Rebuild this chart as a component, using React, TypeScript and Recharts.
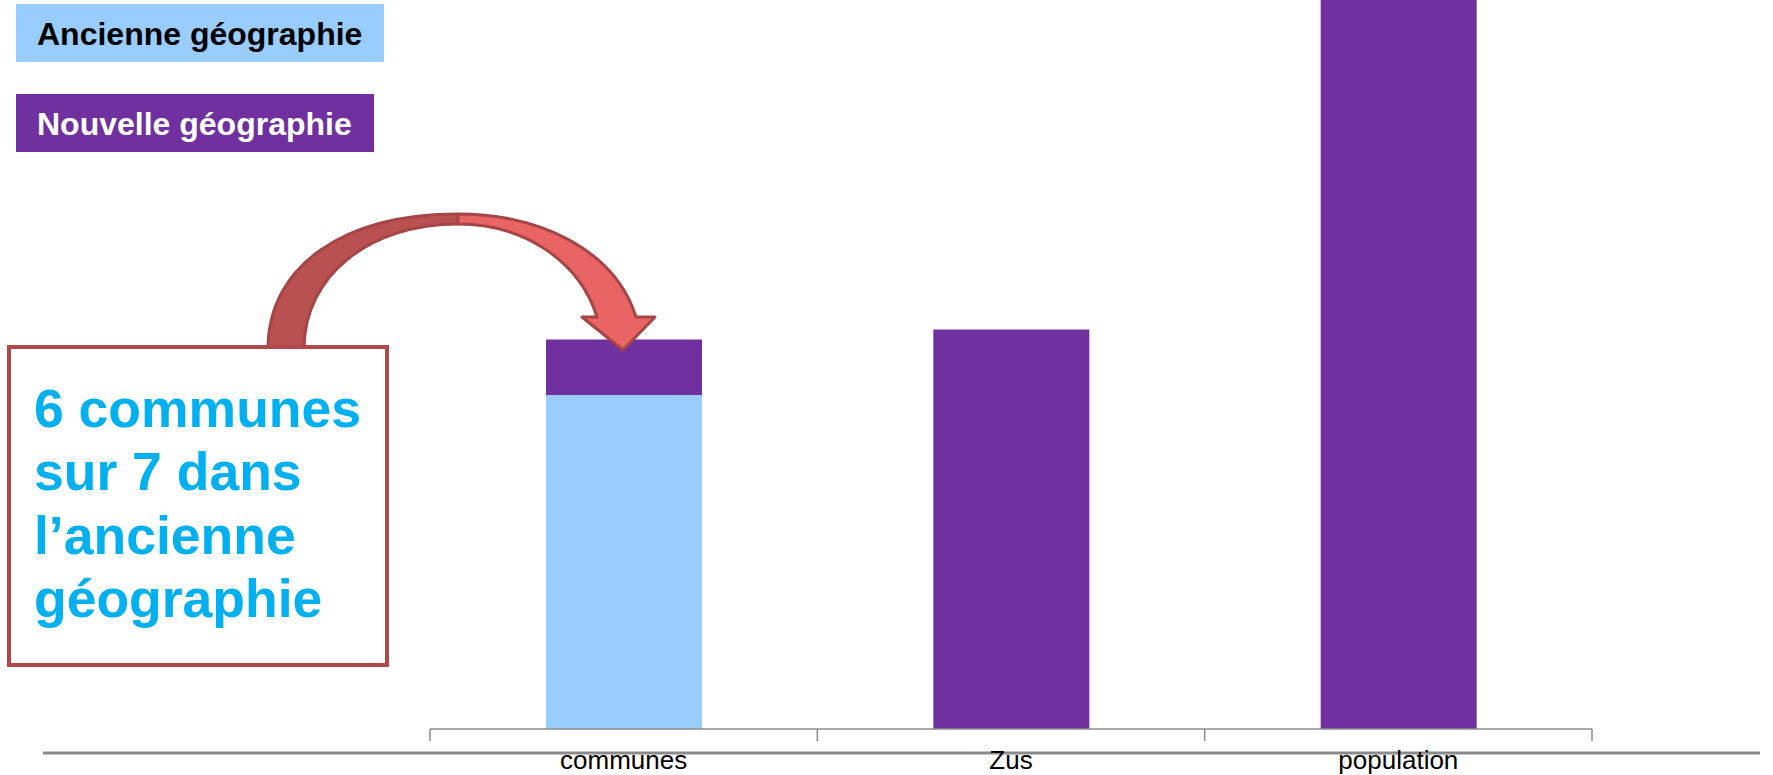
import React from 'react';
import { BarChart, Bar, XAxis, YAxis } from 'recharts';

const categories = ['communes', 'Zus', 'population'];
const ancienneValues = [6, 0, 0];
const nouvelleValues = [1, 7.18, 13.1];
const seriesNames = ['Ancienne géographie', 'Nouvelle géographie'];
const seriesColors = ['#99CCFF', '#7030A0'];
const annotationLines = ['6 communes', 'sur 7 dans', 'l\u2019ancienne', 'géographie'];

const data = categories.map((c, i) => ({
  name: c,
  ancienne: ancienneValues[i],
  nouvelle: nouvelleValues[i],
}));

const FONT = '"Liberation Sans", Arial, sans-serif';

const Tick = (props: any) => {
  const { x, y, payload, index } = props;
  const half = payload && typeof payload.offset === 'number' && payload.offset > 0 ? payload.offset : 193;
  const last = index === categories.length - 1;
  return (
    <g>
      <line x1={x - half} x2={x - half} y1={y} y2={y + 12} stroke="#8C8C8C" strokeWidth={1.5} />
      {last && <line x1={x + half} x2={x + half} y1={y} y2={y + 12} stroke="#8C8C8C" strokeWidth={1.5} />}
      <text x={x} y={y + 40} textAnchor="middle" fontSize={26} fill="#000" fontFamily={FONT}>
        {payload.value}
      </text>
    </g>
  );
};

export default function App() {
  return (
    <div style={{ position: 'fixed', left: 0, top: 0, width: 1773, height: 775, background: '#fff', fontFamily: FONT }}>
      <svg width={1773} height={775} style={{ position: 'absolute', left: 0, top: 0 }}>
        <line x1={43} x2={1760} y1={753} y2={753} stroke="#8A8A8A" strokeWidth={3} />
      </svg>
      <div style={{ position: 'absolute', left: 0, top: 0 }}>
        <BarChart
          width={1773}
          height={775}
          data={data}
          margin={{ top: 0, right: 181, bottom: 0, left: 430 }}
        >
          <XAxis
            dataKey="name"
            height={46}
            tickSize={0}
            tickMargin={0}
            tickLine={false}
            axisLine={{ stroke: '#8C8C8C', strokeWidth: 1.5 }}
            tick={<Tick />}
            interval={0}
          />
          <YAxis hide domain={[0, 13.1]} allowDataOverflow />
          <Bar dataKey="ancienne" stackId="a" fill={seriesColors[0]} barSize={156} isAnimationActive={false} />
          <Bar dataKey="nouvelle" stackId="a" fill={seriesColors[1]} barSize={156} isAnimationActive={false} />
        </BarChart>
      </div>
      <svg width={1773} height={775} style={{ position: 'absolute', left: 0, top: 0, pointerEvents: 'none' }}>
        {/* legend */}
        <rect x={16} y={4} width={368} height={58} fill={seriesColors[0]} />
        <text x={37} y={45} fontSize={32} fontWeight="bold" fill="#000" fontFamily={FONT}>{seriesNames[0]}</text>
        <rect x={16} y={94} width={358} height={58} fill={seriesColors[1]} />
        <text x={37} y={135} fontSize={32} fontWeight="bold" fill="#fff" fontFamily={FONT}>{seriesNames[1]}</text>
        {/* curved arrow */}
        <path
          d="M 268 349 C 268 265, 345 214, 458 214 L 458 224 C 370 224, 304 275, 304 349 Z"
          fill="#B85150" stroke="#A64545" strokeWidth={3} strokeLinejoin="round"
        />
        <path
          d="M 458 214 C 540 214, 615 250, 636 317 L 655 317 L 623 350 L 582 317 L 597 317 C 580 262, 525 224, 458 224 Z"
          fill="#E96565" stroke="#A64545" strokeWidth={3} strokeLinejoin="round"
        />
        {/* text box */}
        <rect x={9} y={347} width={378} height={318} fill="#fff" stroke="#B04A4A" strokeWidth={4} />
        {annotationLines.map((l, i) => (
          <text key={i} x={34} y={427 + i * 63.3} fontSize={53.5} fontWeight="bold" fill="#00B0F0" fontFamily={FONT}>
            {l}
          </text>
        ))}
      </svg>
    </div>
  );
}
